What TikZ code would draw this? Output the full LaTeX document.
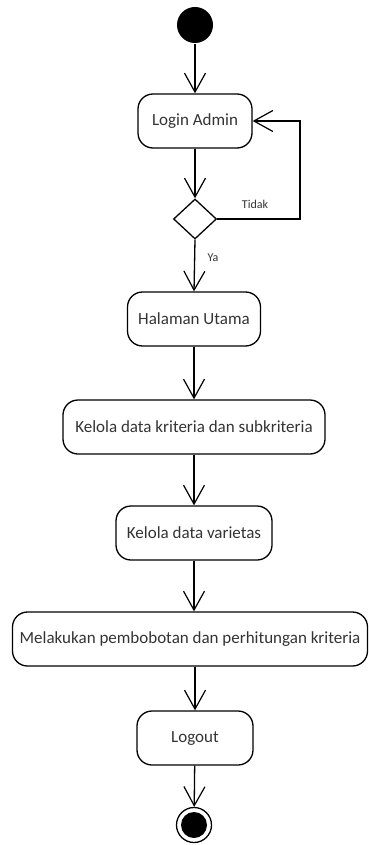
\documentclass[tikz,border=0pt]{standalone}
\usepackage{fontspec}
\setmainfont{Carlito}
\usetikzlibrary{arrows.meta,shapes.geometric}
\begin{document}
\begin{tikzpicture}[x=1pt,y=-1pt,
  line width=1.3pt,
  arr/.style={-{Straight Barb[length=19pt,width=21pt,line width=1.2pt]}},
  act/.style={draw, rectangle, rounded corners=15pt, minimum height=54pt,
    inner sep=0pt, font=\fontsize{17}{20}\selectfont, text=black!80},
  dec/.style={draw, diamond, minimum width=43pt, minimum height=40pt, inner sep=0pt, fill=white},
  lbl/.style={font=\fontsize{12}{14}\selectfont, text=black!80}]
\useasboundingbox (0,0) rectangle (369,845);

% start and final states
\node[circle, fill=black, minimum size=36pt, inner sep=0pt] (start) at (195,25) {};
\node[act, minimum width=114pt] (login) at (195,121) {Login Admin};
\node[dec] (dia) at (195,219) {};
\node[act, minimum width=133pt] (home) at (194,319) {Halaman Utama};
\node[act, minimum width=262pt] (krit) at (194,427) {Kelola data kriteria dan subkriteria};
\node[act, minimum width=156pt] (var) at (194,533) {Kelola data varietas};
\node[act, minimum width=355pt] (bobot) at (190,639) {Melakukan pembobotan dan perhitungan kriteria};
\node[act, minimum width=116pt] (logout) at (195,738) {Logout};
\node[circle, draw, fill=white, minimum size=35pt, inner sep=0pt] (final) at (194,825) {};
\node[circle, fill=black, minimum size=26pt, inner sep=0pt] at (final.center) {};

% transitions
\draw[arr] (start) -- (login);
\draw[arr] (login) -- (dia);
\coordinate (loopc) at (300,219);
\draw[arr] (dia.east) -- (loopc) |- (login.east);
\node[lbl] (tidak) at (255,204) {Tidak};
\draw[arr] (dia.south) -- (home.north);
\node[lbl] (ya) at (213,258) {Ya};
\draw[arr] (home) -- (krit);
\draw[arr] (krit) -- (var);
\draw[arr] (var.south) -- (var.south |- bobot.north);
\draw[arr] (bobot.south -| logout.north) -- (logout.north);
\draw[arr] (logout) -- (final);
\end{tikzpicture}
\end{document}
